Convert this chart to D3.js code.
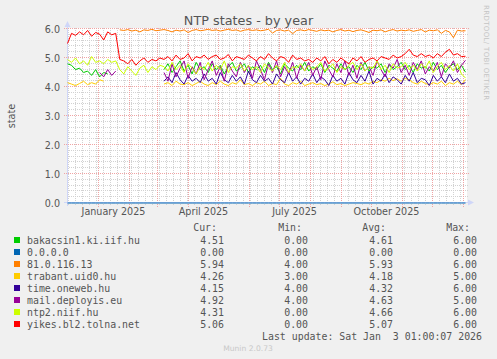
<!DOCTYPE html>
<html>
<head>
<meta charset="utf-8">
<script src="https://cdn.jsdelivr.net/npm/d3@7"></script>
<style>
  body { margin: 0; background: #F0F0F0; }
  svg { display: block; }
  text { font-family: "DejaVu Sans", sans-serif; fill: #555; }
  .mono { font-family: "DejaVu Sans Mono", monospace; font-size: 9.9px; white-space: pre; }
</style>
</head>
<body>
<script>
// legend / series info
const names  = ["bakacsin1.ki.iif.hu", "0.0.0.0", "81.0.116.13", "trabant.uid0.hu", "time.oneweb.hu", "mail.deployis.eu", "ntp2.niif.hu", "yikes.bl2.tolna.net"];
const colors = ["#00CC00", "#0066B3", "#FF8000", "#FFCC00", "#330099", "#990099", "#CCFF00", "#FF0000"];
const curVals = [4.51, 0.00, 5.94, 4.26, 4.15, 4.92, 4.31, 5.06];
const minVals = [0.00, 0.00, 4.00, 3.00, 4.00, 4.00, 0.00, 0.00];
const avgVals = [4.61, 0.00, 5.93, 4.18, 4.32, 4.63, 4.66, 5.07];
const maxVals = [6.00, 0.00, 6.00, 5.00, 6.00, 5.00, 6.00, 6.00];

const yTicks = [0, 1, 2, 3, 4, 5, 6];
const xLabels = ["January 2025", "April 2025", "July 2025", "October 2025"];
const xLabelDates = [new Date(2025, 0, 16), new Date(2025, 3, 16), new Date(2025, 6, 16), new Date(2025, 9, 16)];

// samples: 100 points from 1 Dec 2024 to 3 Jan 2026
const N = null;
const green = [4.8, 4.75, 4.6, 4.65, 4.5, 4.55, 4.4, 4.6, 4.35, 4.5, 4.45,
  N, N, N, N, N, N, N, N, N, N, N, N, N,
  4.6, 4.8, 4.5, 4.7, 4.9, 4.55, 4.75, 4.45, 4.85, 4.6, 4.7, 4.5,
  4.8, 4.6, 4.75, 4.45, 4.7, 4.85, 4.55, 4.65, 4.8, 4.5, 4.7, 4.6,
  4.75, 4.5, 4.85, 4.6, 4.7, 4.45, 4.8, 4.65, 4.55, 4.75, 4.6, 4.85,
  4.55, 4.7, 4.6, 4.8, 4.5, 4.75, 4.65, 4.55, 4.8, 4.6, 4.7, 4.5,
  4.75, 4.6, 4.85, 4.55, 4.7, 4.65, 4.8, 4.5, 4.75, 4.6, 4.7, 4.85,
  4.6, 4.75, 4.5, 4.8, 4.65, 4.7, 4.55, 4.85, 4.6, 4.75, 4.5, 4.7, 4.8, 4.6, 4.75, 4.51];
const blue = [0, 0, 0, 0, 0, 0, 0, 0, 0, 0, 0, 0, 0, 0, 0, 0, 0, 0, 0, 0,
  0, 0, 0, 0, 0, 0, 0, 0, 0, 0, 0, 0, 0, 0, 0, 0, 0, 0, 0, 0,
  0, 0, 0, 0, 0, 0, 0, 0, 0, 0, 0, 0, 0, 0, 0, 0, 0, 0, 0, 0,
  0, 0, 0, 0, 0, 0, 0, 0, 0, 0, 0, 0, 0, 0, 0, 0, 0, 0, 0, 0,
  0, 0, 0, 0, 0, 0, 0, 0, 0, 0, 0, 0, 0, 0, 0, 0, 0, 0, 0, 0];
const orange = [N, N, N, N, N, N, N, N, N, N, N, N, N,
  5.97, 5.95, 5.98, 5.93, 5.96, 5.9, 5.97, 5.95, 5.99, 5.94, 5.96, 5.98,
  5.95, 5.9, 5.96, 5.93, 5.97, 5.88, 5.95, 5.98, 5.94, 5.96, 5.99, 5.95,
  5.97, 5.93, 5.96, 5.99, 5.95, 5.97, 5.92, 5.96, 5.98, 5.95, 5.97, 5.94,
  5.96, 5.99, 5.86, 5.95, 5.97, 5.93, 5.96, 5.84, 5.95, 5.97, 5.94, 5.98,
  5.95, 5.92, 5.97, 5.94, 5.96, 5.9, 5.95, 5.98, 5.93, 5.96, 5.91, 5.95,
  5.97, 5.93, 5.88, 5.96, 5.94, 5.97, 5.9, 5.95, 5.98, 5.93, 5.96, 5.94,
  5.97, 5.92, 5.95, 5.98, 5.9, 5.96, 5.94, 5.97, 5.85, 5.95, 5.9, 5.7, 5.96, 5.93, 5.94];
const yellow = [4.15, 4.1, 4.05, 4.12, 4.2, 4.08, 4.15, 4.1, 4.25, 4.2,
  N, N, N, N, N, N, N, N, N, N, N, N, N, N,
  4.1, 4.15, 4.05, 4.2, 4.1, 4.08, 4.15, 4.05, 4.12, 4.2, 4.1, 4.05,
  4.15, 4.08, 4.2, 4.1, 4.05, 4.15, 4.1, 4.25, 4.08, 4.12, 4.05, 4.15,
  4.1, 4.2, 4.05, 4.12, 4.08, 4.3, 4.1, 4.05, 4.15, 4.1, 4.2, 4.05,
  4.1, 4.15, 4.08, 4.12, 4.05, 4.1, 4.18, 4.08, 4.12, 4.05, 4.1, 4.15,
  4.12, 4.08, 4.15, 4.1, 4.2, 4.15, 4.25, 4.2, 4.3, 4.22, 4.28, 4.2,
  4.3, 4.25, 4.15, 4.1, 4.2, 4.12, 4.08, 4.15, 4.1, 4.2, 4.05, 4.15, 4.1, 4.2, 4.08, 4.26];
const indigo = [N, N, N, N, N, N, N, N, N, N, N, N, N, N, N, N, N, N, N, N, N, N, N, N,
  4.2, 4.35, 4.15, 4.5, 4.25, 4.1, 4.4, 4.2, 4.3, 4.15, 4.45, 4.2,
  4.3, 4.1, 4.5, 4.25, 4.15, 4.4, 4.2, 4.35, 4.1, 4.55, 4.25, 4.15,
  4.4, 4.2, 4.3, 4.1, 4.45, 4.25, 4.15, 4.5, 4.2, 4.35, 4.1, 4.3,
  4.2, 4.45, 4.15, 4.35, 4.25, 4.05, 4.4, 4.2, 4.3, 4.1, 4.5, 4.25,
  4.15, 4.4, 4.2, 4.55, 4.1, 4.3, 4.2, 4.45, 4.15, 4.35, 4.25, 4.1,
  4.4, 4.2, 4.5, 4.15, 4.3, 4.25, 4.05, 4.4, 4.2, 4.35, 4.15, 4.45, 4.2, 4.3, 4.1, 4.15];
const purple = [N, N, N, N, N, N, N, N,
  4.5, 4.35, 4.6, 4.4, 4.55,
  N, N, N, N, N, N, N, N, N, N, N,
  4.5, 4.2, 4.8, 4.35, 4.65, 4.9, 4.3, 4.7, 4.45, 4.85, 4.25, 4.6,
  4.9, 4.4, 4.7, 4.2, 4.8, 4.55, 4.35, 4.85, 4.5, 4.75, 4.3, 4.9,
  4.6, 4.25, 4.8, 4.5, 4.9, 4.35, 4.7, 4.45, 4.85, 4.3, 4.75, 4.55,
  4.85, 4.4, 4.7, 4.25, 4.9, 4.6, 4.35, 4.8, 4.5, 4.9, 4.4, 4.75,
  4.3, 4.85, 4.55, 4.7, 4.4, 4.9, 4.6, 4.35, 4.8, 4.65, 4.95, 4.5,
  4.75, 4.4, 4.85, 4.6, 4.9, 4.45, 4.7, 4.55, 4.85, 4.35, 4.8, 4.65, 4.9, 4.5, 4.75, 4.92];
const lime = [4.95, 4.85, 5.0, 4.8, 4.9, 4.75, 5.05, 4.85, 4.9, 4.8, 4.95, 4.85, 4.9,
  4.6, 4.45, 4.7, 4.55, 4.4, 4.65, 4.75, 4.5, 4.7, 4.6, 4.75,
  4.7, 4.55, 4.85, 4.6, 4.75, 4.5, 4.8, 4.65, 4.45, 4.7, 4.6, 4.85,
  4.55, 4.75, 4.6, 4.9, 4.5, 4.7, 4.65, 4.8, 4.55, 4.75, 4.6, 4.7,
  4.5, 4.8, 4.65, 4.55, 4.75, 4.6, 4.85, 4.5, 4.7, 4.65, 4.8, 4.55,
  4.75, 4.6, 4.7, 4.85, 4.55, 4.65, 4.8, 4.5, 4.7, 4.6, 4.75, 4.85,
  4.6, 4.8, 4.55, 4.7, 4.65, 4.9, 4.6, 4.75, 4.5, 4.8, 4.65, 4.7,
  4.85, 4.6, 4.75, 4.55, 4.8, 4.65, 4.9, 4.5, 4.7, 4.85, 4.6, 4.75, 4.55, 4.8, 4.45, 4.31];
const red = [5.5, 5.85, 5.78, 5.9, 5.8, 5.95, 5.75, 5.88, 5.82, 5.62, 5.9, 5.8, 5.85,
  4.95, 4.9, 4.8, 4.95, 4.75, 4.9, 5.0, 4.85, 4.95, 4.9, 5.0,
  4.95, 5.05, 4.9, 5.1, 4.95, 5.0, 5.15, 4.9, 5.05, 5.0, 5.1, 4.95,
  5.05, 5.1, 4.95, 5.0, 5.12, 4.9, 5.05, 5.0, 4.95, 5.1, 5.0, 4.9,
  5.05, 4.95, 5.15, 5.0, 4.9, 5.05, 5.0, 4.85, 5.1, 4.95, 5.0, 4.9,
  4.95, 4.85, 5.0, 4.9, 5.05, 4.8, 4.95, 4.85, 5.0, 4.9, 4.8, 5.0,
  4.9, 5.05, 4.85, 4.95, 5.0, 4.9, 5.05, 5.0, 4.95, 5.1, 5.0, 5.05,
  5.15, 5.3, 5.1, 5.05, 5.15, 5.05, 5.1, 5.0, 5.15, 5.05, 5.2, 5.3, 5.1, 5.15, 5.05, 5.06];

const series = [green, blue, orange, yellow, indigo, purple, lime, red];

const width = 497;
const height = 359;
const startDate = new Date(2024, 11, 1);
const sampleDates = d3.range(100).map(i => new Date(startDate.getTime() + i * 398 / 99 * 864e5));

const svg = d3.select("body")
  .append("svg")
  .attr("width", width)
  .attr("height", height);

svg.append("rect")
  .attr("width", width)
  .attr("height", height)
  .attr("fill", "#F0F0F0");

const xScale = d3.scaleTime()
  .domain([startDate, new Date(2026, 0, 5)])
  .range([67.5, 467.5]);

const yScale = d3.scaleLinear()
  .domain([0, 6])
  .range([203, 29]);

const crispY = v => Math.round(yScale(v)) - 0.5;
const crispX = t => Math.round(xScale(t) - 0.5) + 0.5;

// canvas
svg.append("rect")
  .attr("x", 67).attr("y", 28)
  .attr("width", 400).attr("height", 175)
  .attr("fill", "#FFFFFF");

// minor grid
const grid = svg.append("g").attr("stroke-dasharray", "1,1").attr("stroke-width", 1);

grid.selectAll(".hminor")
  .data(d3.range(0, 30).map(i => i * 0.2).filter(v => Math.abs(v - Math.round(v)) > 0.01))
  .enter().append("line")
  .attr("x1", 67).attr("x2", 469)
  .attr("y1", d => crispY(d))
  .attr("y2", d => crispY(d))
  .attr("stroke", "#D2D2D2");

grid.selectAll(".vminor")
  .data(d3.timeMonday.range(startDate, new Date(2026, 0, 5)))
  .enter().append("line")
  .attr("x1", d => crispX(d))
  .attr("x2", d => crispX(d))
  .attr("y1", 28).attr("y2", 205)
  .attr("stroke", "#D2D2D2");

// major grid
grid.selectAll(".hmajor")
  .data(yTicks.slice(1))
  .enter().append("line")
  .attr("x1", 64).attr("x2", 470)
  .attr("y1", d => crispY(d)).attr("y2", d => crispY(d))
  .attr("stroke", "#F0A4A4");

grid.selectAll(".vmajor")
  .data(d3.timeMonth.range(d3.timeDay.offset(startDate, 1), new Date(2026, 0, 5)))
  .enter().append("line")
  .attr("x1", d => crispX(d))
  .attr("x2", d => crispX(d))
  .attr("y1", 28).attr("y2", 207)
  .attr("stroke", "#F0A4A4");

// axes
svg.append("line")
  .attr("x1", 67.5).attr("x2", 67.5).attr("y1", 206).attr("y2", 25)
  .attr("stroke", "#CFD6F8");
svg.append("path")
  .attr("d", "M64.5,27 L67.5,21 L70.5,27 Z")
  .attr("fill", "#CFD6F8");
svg.append("line")
  .attr("x1", 64).attr("x2", 470).attr("y1", 202.5).attr("y2", 202.5)
  .attr("stroke", "#CFD6F8");
svg.append("path")
  .attr("d", "M468,199.5 L474,202.5 L468,205.5 Z")
  .attr("fill", "#CFD6F8");

// y tick labels
svg.selectAll(".ylab")
  .data(yTicks)
  .enter().append("text")
  .attr("x", 60)
  .attr("y", d => yScale(d) + 3.5)
  .attr("text-anchor", "end")
  .style("font-size", "9.6px")
  .text(d => d.toFixed(1));

// x labels
svg.selectAll(".xlab")
  .data(xLabels)
  .enter().append("text")
  .attr("x", (d, i) => xScale(xLabelDates[i]))
  .attr("y", 215)
  .attr("text-anchor", "middle")
  .style("font-size", "9.6px")
  .text(d => d);

// data lines
const line = d3.line()
  .defined(d => d.v != null)
  .x(d => xScale(d.t))
  .y(d => yScale(d.v));

series.forEach((vals, i) => {
  svg.append("path")
    .datum(vals.map((v, j) => ({ t: sampleDates[j], v: v })))
    .attr("fill", "none")
    .attr("stroke", colors[i])
    .attr("stroke-width", 1)
    .attr("stroke-linejoin", "round")
    .attr("d", line);
});

// title and side texts
svg.append("text")
  .attr("x", 248.5).attr("y", 24.5)
  .attr("text-anchor", "middle")
  .style("font-size", "12.8px")
  .text("NTP states - by year");

svg.append("text")
  .attr("transform", "translate(15,116) rotate(-90)")
  .attr("text-anchor", "middle")
  .style("font-size", "9.6px")
  .text("state");

svg.append("text")
  .attr("transform", "translate(484,5) rotate(90)")
  .attr("textLength", 95)
  .style("font-size", "7px")
  .style("fill", "#C4C4C4")
  .text("RRDTOOL/ TOBI OETIKER");

// legend
const legend = svg.append("g");
const headX = [217, 302, 386, 470];
["Cur:", "Min:", "Avg:", "Max:"].forEach((h, i) => {
  legend.append("text").attr("class", "mono")
    .attr("x", headX[i]).attr("y", 230.5)
    .attr("text-anchor", "end")
    .text(h);
});

const colX = [224, 308, 393, 477];
names.forEach((name, i) => {
  const cy = 240 + i * 12;
  legend.append("rect")
    .attr("x", 14).attr("y", cy - 3)
    .attr("width", 6).attr("height", 6)
    .attr("fill", colors[i]);
  legend.append("text").attr("class", "mono")
    .attr("x", 27).attr("y", cy + 3.5)
    .text(name);
  [curVals, minVals, avgVals, maxVals].forEach((col, k) => {
    legend.append("text").attr("class", "mono")
      .attr("x", colX[k]).attr("y", cy + 3.5)
      .attr("text-anchor", "end")
      .text(col[i].toFixed(2));
  });
});

legend.append("text").attr("class", "mono")
  .attr("x", 482).attr("y", 339.5)
  .attr("text-anchor", "end")
  .text("Last update: Sat Jan  3 01:00:07 2026");

svg.append("text")
  .attr("x", 248).attr("y", 351)
  .attr("text-anchor", "middle")
  .style("font-size", "7.6px")
  .style("fill", "#C8C8C8")
  .text("Munin 2.0.73");
</script>
</body>
</html>
